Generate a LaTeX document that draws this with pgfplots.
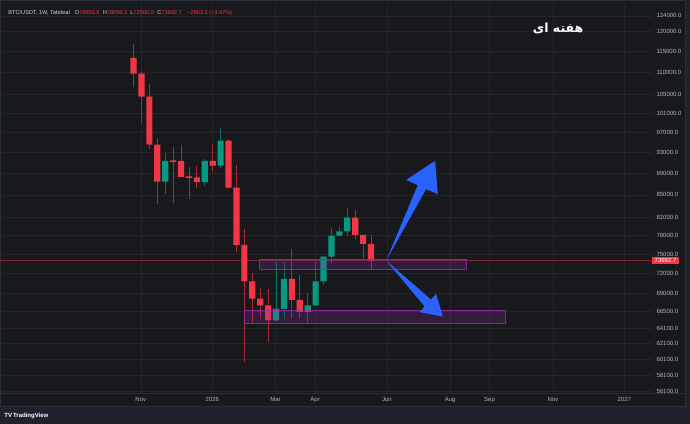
\documentclass[border=0pt]{standalone}
\usepackage{pgfplots}
\usepackage{pgfplotstable}
\pgfplotsset{compat=1.18}
\usepackage{fontspec}
\setmainfont{Liberation Sans}
\newfontfamily\arabicfont[Script=Arabic]{DejaVu Sans}
\TeXXeTstate=1
\definecolor{bgc}{HTML}{18191D}
\definecolor{footc}{HTML}{1E222D}
\definecolor{gridc}{HTML}{232529}
\definecolor{borderc}{HTML}{2A2E39}
\definecolor{tickc}{HTML}{B2B5BE}
\definecolor{hdrc}{HTML}{D1D4DC}
\definecolor{cred}{HTML}{F23645}
\definecolor{cgreen}{HTML}{089981}
\definecolor{zonec}{HTML}{9C27B0}
\definecolor{arrowc}{HTML}{2962FF}
\newcommand\smallfont{\fontsize{5.6}{6}\selectfont}
\newcommand\tickfont{\fontsize{6}{7}\selectfont}

\pgfplotstableread{
i o h l c g
1 113500 116900 106800 109800 0
2 109800 110400 98900 104600 0
3 104600 107400 93700 94500 0
4 94500 95900 83400 87400 0
5 87400 92900 85200 91300 1
6 91400 94000 83600 91100 0
7 91300 94500 88200 88300 0
8 88400 90200 84300 88100 0
9 88200 90400 86200 87300 0
10 87300 91700 86600 91300 1
11 91300 94700 89300 90400 0
12 90400 97800 90000 95300 1
13 95300 95600 86000 86300 0
14 86300 90600 75400 76500 0
15 76500 79100 59700 70800 0
16 70800 72100 64900 68300 0
17 68300 69900 65400 67300 0
18 67300 69700 62300 65200 0
19 65200 73700 65100 66800 1
20 66800 73700 65400 71200 1
21 71200 75800 65500 68100 0
22 68100 71800 65500 66400 0
23 66400 69100 64900 67300 1
24 67300 73700 67200 70800 1
25 70800 74700 70300 74600 1
26 74600 79200 73600 78000 1
27 78000 79400 77700 78700 1
28 78700 82600 77900 81000 1
29 81000 82400 77500 78100 0
30 78100 78100 74200 76650 0
31 76655.9 78056.3 72500 73992.7 0
}\candles

\begin{document}
\begin{tikzpicture}
\fill[footc] (0pt,0pt) rectangle (690pt,424pt);
\fill[bgc] (0.5pt,17pt) rectangle (685pt,423.5pt);
\draw[borderc,line width=0.7pt] (0.5pt,17pt) rectangle (685pt,423.5pt);
\draw[borderc,line width=0.7pt] (0.5pt,30pt) -- (685pt,30pt);
\begin{axis}[
  at={(0pt,30pt)}, anchor=south west, scale only axis,
  width=652pt, height=391pt,
  xmin=-15.83, xmax=66.49,
  ymode=log, ymin=55857, ymax=127448,
  axis line style={draw=none},
  major tick length=0pt,
  ytick={56100,58100,60100,62100,64100,66500,69000,72000,75000,78000,81000,85000,89000,93000,97000,101000,105000,110000,115000,120000,124000},
  yticklabels={56100.0,58100.0,60100.0,62100.0,64100.0,66500.0,69000.0,72000.0,75000.0,78000.0,81000.0,85000.0,89000.0,93000.0,97000.0,101000.0,105000.0,110000.0,115000.0,120000.0,124000.0},
  yticklabel pos=right,
  yticklabel style={xshift=1pt},
  xtick={1.92,10.96,18.94,23.93,33.01,40.99,45.97,53.97,62.99},
  xticklabels={Nov,2026,Mar,Apr,Jun,Aug,Sep,Nov,2027},
  xticklabel style={yshift=-0.3pt},
  tick label style={font=\tickfont, text=tickc},
  grid=major, major grid style={draw=gridc, line width=0.6pt},
  clip=false,
]
\addplot[draw=cred!45!bgc, line width=0.45pt, forget plot] coordinates {(-15.83,73992.7) (66.49,73992.7)};
\foreach \k in {0,...,30}{
  \pgfplotstablegetelem{\k}{i}\of\candles \edef\ci{\pgfplotsretval}
  \pgfplotstablegetelem{\k}{o}\of\candles \edef\co{\pgfplotsretval}
  \pgfplotstablegetelem{\k}{h}\of\candles \edef\ch{\pgfplotsretval}
  \pgfplotstablegetelem{\k}{l}\of\candles \edef\cl{\pgfplotsretval}
  \pgfplotstablegetelem{\k}{c}\of\candles \edef\cc{\pgfplotsretval}
  \pgfplotstablegetelem{\k}{g}\of\candles \edef\cg{\pgfplotsretval}
  \ifnum\cg=1 \def\col{cgreen}\else\def\col{cred}\fi
  \pgfmathsetmacro{\xl}{\ci-0.39}
  \pgfmathsetmacro{\xr}{\ci+0.39}
  \edef\tmp{%
    \noexpand\addplot[draw=\col!72!black, line width=0.8pt, forget plot] coordinates {(\ci,\cl) (\ci,\ch)};
    \noexpand\addplot[fill=\col, draw=none, forget plot] coordinates {(\xl,\co) (\xr,\co) (\xr,\cc) (\xl,\cc) (\xl,\co)};
  }\tmp
}
\addplot[draw=zonec, draw opacity=0.85, fill=zonec, fill opacity=0.22, line width=0.9pt, forget plot]
  coordinates {(16.91,72667) (43.0,72667) (43.0,74218) (16.91,74218) (16.91,72667)};
\addplot[draw=zonec, draw opacity=0.85, fill=zonec, fill opacity=0.22, line width=0.9pt, forget plot]
  coordinates {(15.02,64843) (47.97,64843) (47.97,66617) (15.02,66617) (15.02,64843)};
\fill[arrowc] (rel axis cs:0.59202,0.34092) -- (rel axis cs:0.64064,0.53376) -- (rel axis cs:0.62270,0.54731)
  -- (rel axis cs:0.66718,0.59591) -- (rel axis cs:0.67132,0.51074) -- (rel axis cs:0.65337,0.52353) -- cycle;
\fill[arrowc] (rel axis cs:0.59202,0.34092) -- (rel axis cs:0.65107,0.22353) -- (rel axis cs:0.64310,0.20895)
  -- (rel axis cs:0.67899,0.19770) -- (rel axis cs:0.66871,0.25575) -- (rel axis cs:0.66074,0.24118) -- cycle;
\node[fill=cred, text=white, font=\tickfont, anchor=west, inner xsep=2.5pt, inner ysep=1pt, minimum height=7.6pt]
  at (axis cs:66.49,73992.7) {73992.7};
\end{axis}
\node[anchor=base west, font=\smallfont, text=hdrc, inner sep=0pt] at (8pt,409.5pt) {BTC/USDT, 1W, Tabdeal};
\node[anchor=base west, font=\smallfont, text=hdrc, inner sep=0pt] at (74.5pt,409.5pt) {O\textcolor{cred}{76655.9}};
\node[anchor=base west, font=\smallfont, text=hdrc, inner sep=0pt] at (102.5pt,409.5pt) {H\textcolor{cred}{78056.3}};
\node[anchor=base west, font=\smallfont, text=hdrc, inner sep=0pt] at (130pt,409.5pt) {L\textcolor{cred}{72500.0}};
\node[anchor=base west, font=\smallfont, text=hdrc, inner sep=0pt] at (157pt,409.5pt) {C\textcolor{cred}{73992.7}};
\node[anchor=base west, font=\smallfont, text=cred, inner sep=0pt] at (187pt,409.5pt) {−2663.2 (−3.47\%)};
\node[font=\arabicfont\bfseries\fontsize{12.5}{14}\selectfont, text=white] at (558pt,396pt) {\beginR هفته ای\endR};
\node[anchor=west, font=\bfseries\fontsize{6}{7}\selectfont, text=white, inner sep=0pt] at (4pt,8pt) {TV\,TradingView};
\end{tikzpicture}
\end{document}
